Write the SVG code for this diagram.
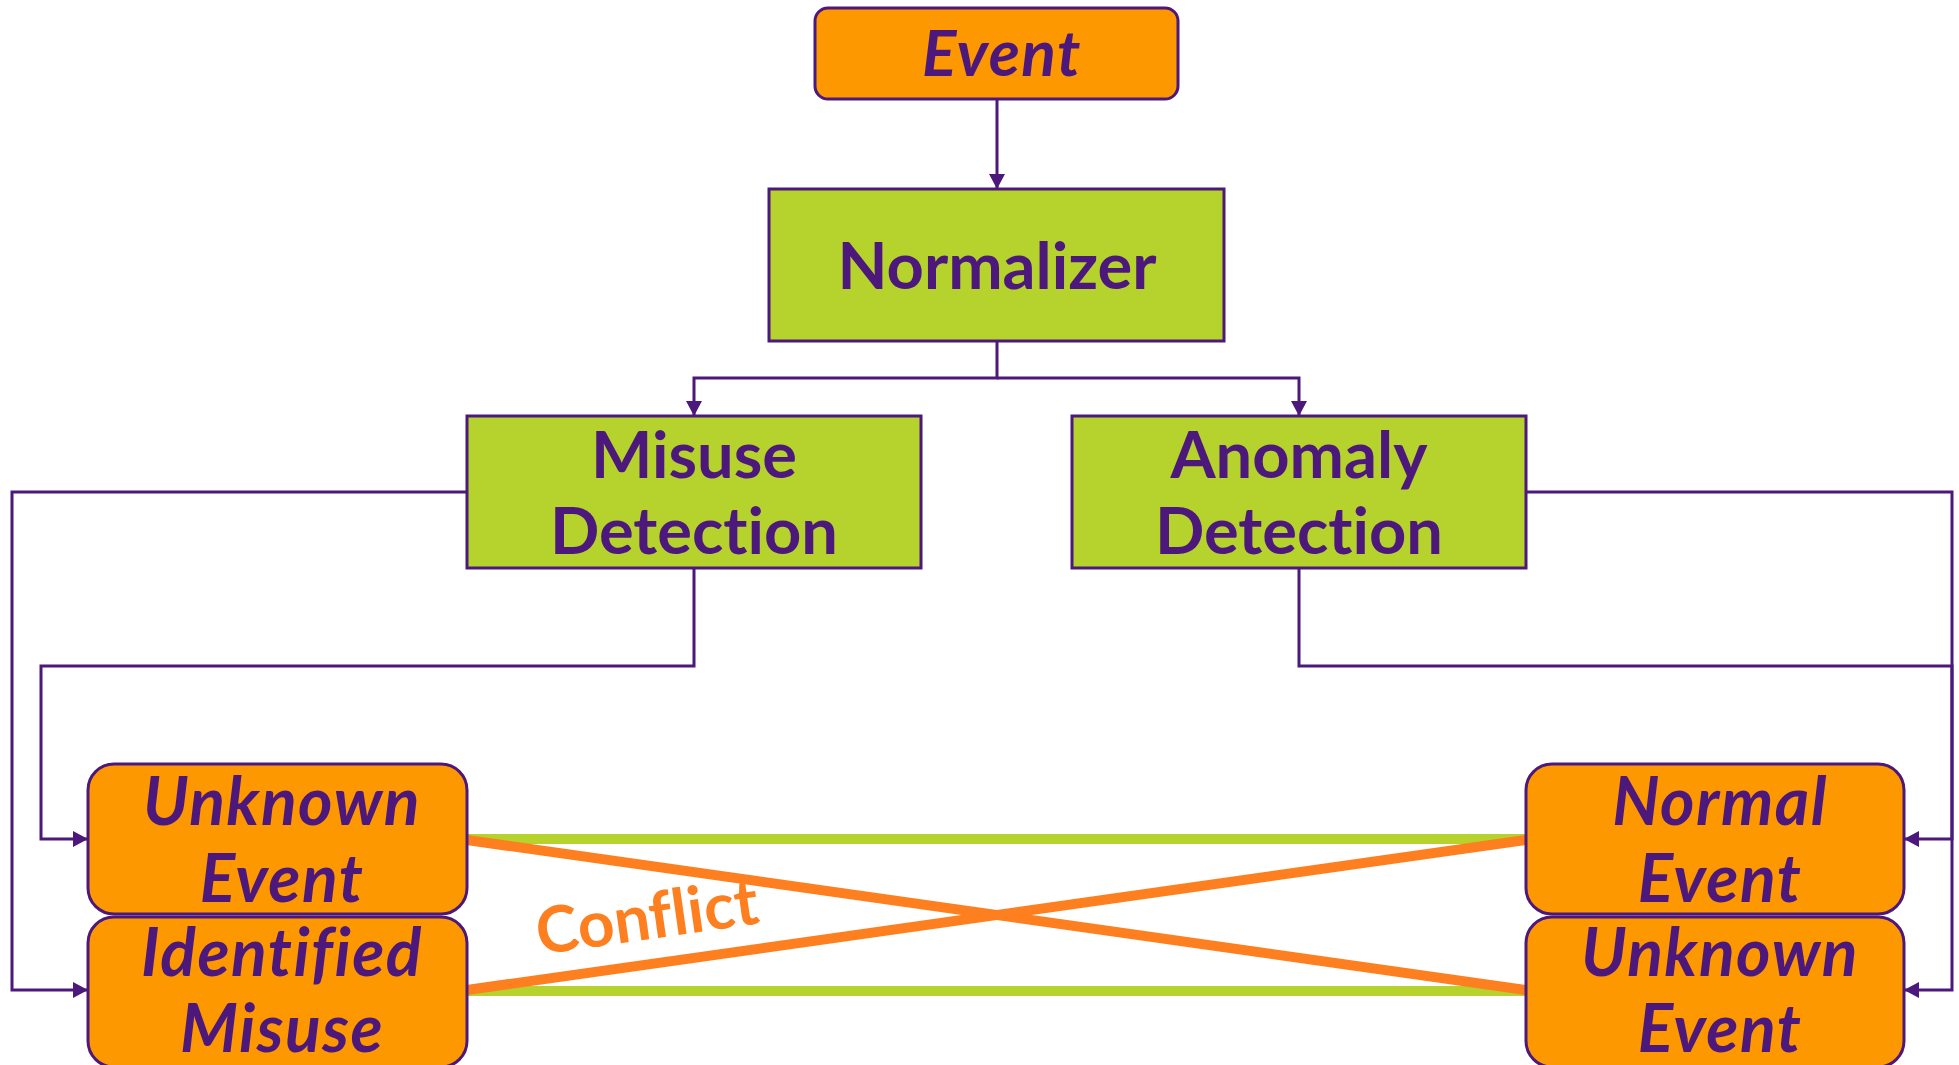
<svg xmlns="http://www.w3.org/2000/svg" width="1959" height="1065" viewBox="0 0 1959 1065">
<defs>
<style>
text{font-variant-ligatures:none;font-feature-settings:"liga" 0}
.proc{fill:#B5D22D;stroke:#4D187B;stroke-width:3}
.evt{fill:#FE9800;stroke:#4D187B;stroke-width:3}
.t{font-family:Lato,"Noto Sans",sans-serif;font-weight:bold;fill:#4D187B;text-anchor:middle}
.ti{font-family:Lato,"Noto Sans",sans-serif;font-weight:bold;font-style:italic;fill:#4D187B;text-anchor:middle;letter-spacing:1.5px}
.conn{fill:none;stroke:#4D187B;stroke-width:3}
.green{stroke:#B5D22D;stroke-width:10}
.orange{stroke:#FE7F1F;stroke-width:10}
</style>
<marker id="arr" markerWidth="16" markerHeight="16" refX="15" refY="8" orient="auto" markerUnits="userSpaceOnUse">
<path d="M0,0 L15,8 L0,16 Z" fill="#4D187B"/>
</marker>
</defs>
<rect width="1959" height="1065" fill="#FFFFFF"/>
<g id="connectors">
<path class="conn" d="M997 99 V189" marker-end="url(#arr)"/>
<path class="conn" d="M997 341 V378 H694 V416" marker-end="url(#arr)"/>
<path class="conn" d="M997 378 H1299 V416" marker-end="url(#arr)"/>
<path class="conn" d="M467 492 H12 V990 H88" marker-end="url(#arr)"/>
<path class="conn" d="M694 568 V666 H41 V839 H88" marker-end="url(#arr)"/>
<path class="conn" d="M1526 492 H1952 V990 H1904" marker-end="url(#arr)"/>
<path class="conn" d="M1299 568 V666 H1952 V839 H1904" marker-end="url(#arr)"/>
<line class="green" x1="467" y1="839" x2="1526" y2="839"/>
<line class="green" x1="467" y1="991" x2="1526" y2="991"/>
<line class="orange" x1="467" y1="840" x2="1526" y2="990"/>
<line class="orange" x1="467" y1="990" x2="1526" y2="840"/>
<text x="650" y="939" transform="rotate(-8.1 650 939)" font-family="Lato,'Noto Sans',sans-serif" font-weight="bold" font-size="64" fill="#FE7F1F" text-anchor="middle">Conflict</text>
</g>
<g id="event">
<rect class="evt" x="815" y="8" width="363" height="91" rx="13"/>
<text class="ti" x="1002" y="76" font-size="64">Event</text>
</g>
<g id="normalizer">
<rect class="proc" x="769" y="189" width="455" height="152"/>
<text class="t" x="997" y="289" font-size="65">Normalizer</text>
</g>
<g id="misuse-detection">
<rect class="proc" x="467" y="416" width="454" height="152"/>
<text class="t" x="694" y="478" font-size="65">Misuse</text>
<text class="t" x="694" y="554" font-size="65">Detection</text>
</g>
<g id="anomaly-detection">
<rect class="proc" x="1072" y="416" width="454" height="152"/>
<text class="t" x="1299" y="478" font-size="65">Anomaly</text>
<text class="t" x="1299" y="554" font-size="65">Detection</text>
</g>
<g id="unknown-event-left">
<rect class="evt" x="88" y="764" width="379" height="150" rx="26"/>
<text class="ti" x="282" y="825" font-size="66">Unknown</text>
<text class="ti" x="282" y="902" font-size="66">Event</text>
</g>
<g id="identified-misuse">
<rect class="evt" x="88" y="917" width="379" height="150" rx="26"/>
<text class="ti" x="282" y="976" font-size="66">Identified</text>
<text class="ti" x="282" y="1052" font-size="66">Misuse</text>
</g>
<g id="normal-event">
<rect class="evt" x="1526" y="764" width="378" height="150" rx="26"/>
<text class="ti" x="1720" y="825" font-size="66">Normal</text>
<text class="ti" x="1720" y="902" font-size="66">Event</text>
</g>
<g id="unknown-event-right">
<rect class="evt" x="1526" y="917" width="378" height="150" rx="26"/>
<text class="ti" x="1720" y="976" font-size="66">Unknown</text>
<text class="ti" x="1720" y="1052" font-size="66">Event</text>
</g>
</svg>
